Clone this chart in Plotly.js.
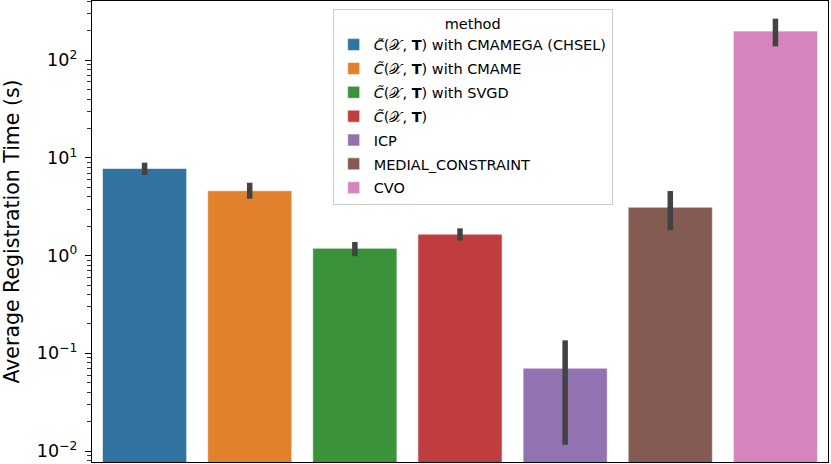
<!DOCTYPE html>
<html>
<head>
<meta charset="utf-8">
<script src="https://cdn.plot.ly/plotly-3.0.1.min.js"></script>
<style>
  html, body { margin: 0; padding: 0; background: #fff; }
  #chart { width: 831px; height: 464px; }
</style>
</head>
<body>
<div id="chart"></div>
<script>
// methods, mean registration time and the 95% CI bounds
var methods = [
    '<i>C\u0303</i>(\u{1D4B3}, <b>T</b>) with CMAMEGA (CHSEL)',
    '<i>C\u0303</i>(\u{1D4B3}, <b>T</b>) with CMAME',
    '<i>C\u0303</i>(\u{1D4B3}, <b>T</b>) with SVGD',
    '<i>C\u0303</i>(\u{1D4B3}, <b>T</b>)',
    'ICP',
    'MEDIAL_CONSTRAINT',
    'CVO'
];
var avgTime = [7.8, 4.62, 1.19, 1.66, 0.0705, 3.13, 199];
var ciHigh  = [8.97, 5.58, 1.38, 1.905, 0.136, 4.59, 267];
var ciLow   = [6.7, 3.83, 0.986, 1.43, 0.0116, 1.83, 139];
var colors  = ['#3274a1', '#e1812c', '#3a923a', '#c03d3e', '#9372b2', '#845b53', '#d684bd'];

var tickVals = [0.01, 0.1, 1, 10, 100];
var tickText = ['10<sup>\u22122</sup>', '10<sup>\u22121</sup>', '10<sup>0</sup>', '10<sup>1</sup>', '10<sup>2</sup>'];

// minor log ticks 2..9 in each decade
var minorVals = [];
for (var d = -3; d <= 2; d++) {
    for (var m = 2; m <= 9; m++) minorVals.push(m * Math.pow(10, d));
}

var traces = methods.map(function (name, i) {
    return {
        type: 'bar',
        name: name,
        legendgroup: 'g' + i,
        x: [i],
        y: [avgTime[i]],
        width: 0.8,
        marker: {
            color: colors[i],
            line: { color: 'rgba(255,255,255,0.55)', width: 1 }
        },
        error_y: {
            type: 'data',
            symmetric: false,
            array: [ciHigh[i] - avgTime[i]],
            arrayminus: [avgTime[i] - ciLow[i]],
            color: '#424242',
            thickness: 5.5,
            width: 0
        }
    };
});

var layout = {
    width: 831,
    height: 464,
    margin: { l: 92, r: 3, t: 1, b: 2 },
    paper_bgcolor: '#fff',
    plot_bgcolor: '#fff',
    font: { family: 'DejaVu Sans', color: '#000' },
    barmode: 'overlay',
    showlegend: true,
    xaxis: {
        type: 'linear',
        range: [-0.5, 6.5],
        showticklabels: false,
        ticks: '',
        showgrid: false,
        zeroline: false,
        showline: true,
        mirror: true,
        linecolor: '#000',
        linewidth: 1.3
    },
    yaxis: {
        type: 'log',
        range: [-2.112, 2.607],
        tickmode: 'array',
        tickvals: tickVals,
        ticktext: tickText,
        tickfont: { size: 17.5, family: 'DejaVu Sans' },
        ticks: 'outside',
        ticklen: 6,
        tickwidth: 1,
        tickcolor: '#000',
        ticklabelstandoff: 4,
        minor: {
            tickmode: 'array',
            tickvals: minorVals,
            ticks: 'outside',
            ticklen: 3.5,
            tickwidth: 0.8,
            tickcolor: '#000',
            showgrid: false
        },
        showgrid: false,
        zeroline: false,
        showline: true,
        mirror: true,
        linecolor: '#000',
        linewidth: 1.3,
        title: {
            text: 'Average Registration Time (s)',
            font: { size: 20.5, family: 'DejaVu Sans' },
            standoff: 12
        }
    },
    legend: {
        x: 0.327,
        y: 0.983,
        xanchor: 'left',
        yanchor: 'top',
        bgcolor: 'rgba(255,255,255,0.8)',
        bordercolor: '#cccccc',
        borderwidth: 1,
        font: { size: 14.5, family: 'DejaVu Sans' },
        title: { text: 'method', side: 'top center', font: { size: 14.5, family: 'DejaVu Sans' } },
        traceorder: 'grouped',
        tracegroupgap: 2
    }
};

Plotly.newPlot('chart', traces, layout, { staticPlot: true });
</script>
</body>
</html>
